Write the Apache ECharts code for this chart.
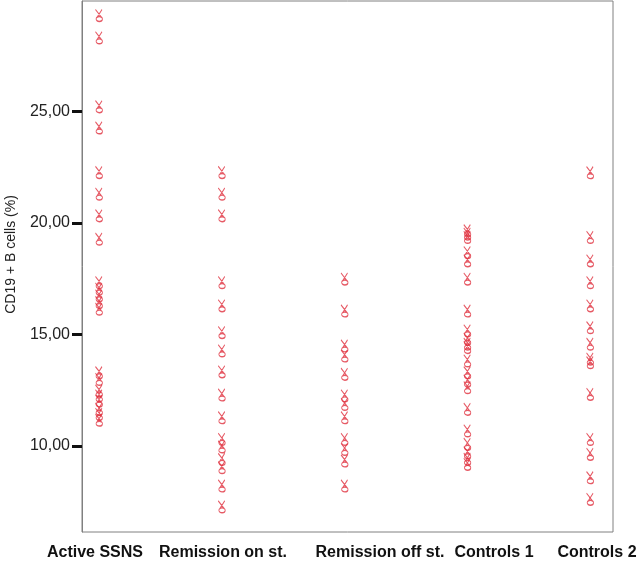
<!DOCTYPE html>
<html>
<head>
<meta charset="utf-8">
<script src="https://cdn.jsdelivr.net/npm/echarts@6/dist/echarts.min.js"></script>
<style>
html,body{margin:0;padding:0;background:#fff;}
#c{width:640px;height:567px;}
</style>
</head>
<body>
<div id="c"></div>
<script>
var categories = ['Active SSNS', 'Remission on st.', 'Remission off st.', 'Controls 1', 'Controls 2'];
var activeSSNS = [29.31, 28.31, 25.22, 24.27, 22.27, 21.3, 20.33, 19.28, 17.33, 17.04, 16.74, 16.44, 16.14, 13.29, 12.99, 12.47, 12.25, 12.02, 11.65, 11.42, 11.16];
var remissionOn = [22.27, 21.3, 20.33, 17.33, 16.29, 15.09, 14.27, 13.33, 12.29, 11.27, 10.3, 9.96, 9.4, 9.03, 8.21, 7.27];
var remissionOff = [17.49, 16.06, 14.49, 14.04, 13.22, 12.25, 11.87, 11.27, 10.3, 9.85, 9.33, 8.21];
var controls1 = [19.66, 19.51, 19.36, 18.68, 18.31, 17.49, 16.06, 15.17, 14.79, 14.57, 14.42, 13.82, 13.29, 12.92, 12.62, 11.65, 10.68, 10.08, 9.70, 9.41, 9.18];
var controls2 = [22.26, 19.36, 18.31, 17.33, 16.29, 15.31, 14.57, 13.90, 13.74, 12.32, 10.3, 9.63, 8.58, 7.61];
var yTicks = [10, 15, 20, 25];
var yTitle = 'CD19 + B cells (%)';

var groups = [activeSSNS, remissionOn, remissionOff, controls1, controls2];
var data = [];
groups.forEach(function (g, i) {
  g.forEach(function (v) { data.push([i, v]); });
});

var markerPath = 'path://M1,0L6.5,9.5M7,0L2.5,9.5M1.6,11.6C1.6,9.9 2.9,8.6 4.5,8.6C6.1,8.6 7.4,9.9 7.4,11.6C7.4,13.3 6.1,14.6 4.5,14.6C2.9,14.6 1.6,13.3 1.6,11.6Z';

var labelX = [95, 223, 380, 494, 597];

var chart = echarts.init(document.getElementById('c'), null, {renderer: 'canvas'});
chart.setOption({
  animation: false,
  backgroundColor: '#fff',
  grid: {left: 82, right: 27, top: 1, bottom: 35, show: true, borderColor: '#808080', borderWidth: 1, backgroundColor: 'transparent', outerBoundsMode: 'none', containLabel: false},
  xAxis: {
    type: 'value', min: -0.138, max: 4.187,
    axisLine: {show: false}, axisTick: {show: false}, axisLabel: {show: false}, splitLine: {show: false}
  },
  yAxis: {
    type: 'value', min: 6.14, max: 29.96,
    name: yTitle, nameLocation: 'middle', nameGap: 64,
    nameTextStyle: {fontFamily: 'Liberation Sans', fontSize: 14, color: '#222', padding: [0, 0, 0, 24]},
    axisLine: {show: true, onZero: false, lineStyle: {color: '#808080', width: 1}},
    axisTick: {show: true, length: 10, lineStyle: {color: '#111', width: 3}, customValues: yTicks},
    axisLabel: {
      customValues: yTicks, margin: 12,
      fontFamily: 'Liberation Sans', fontSize: 16, color: '#222',
      formatter: function (v) { return v.toFixed(2).replace('.', ','); }
    },
    splitLine: {show: false}
  },
  graphic: categories.map(function (c, i) {
    return {
      type: 'text', x: labelX[i], y: 553,
      style: {text: c, fontFamily: 'Liberation Sans', fontWeight: 'bold', fontSize: 16, fill: '#111', align: 'center', verticalAlign: 'middle'}
    };
  }),
  series: [{
    type: 'scatter',
    data: data,
    symbol: markerPath,
    symbolSize: [7, 12],
    itemStyle: {color: 'rgba(0,0,0,0)', borderColor: '#e0313f', borderWidth: 1.1}
  }]
});
</script>
</body>
</html>
